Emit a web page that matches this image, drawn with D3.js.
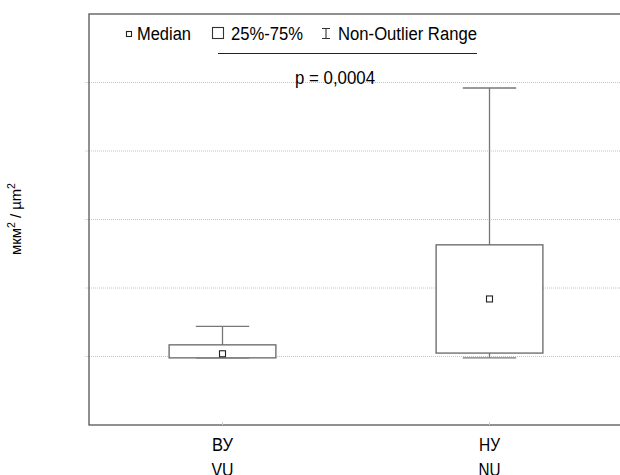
<!DOCTYPE html>
<html>
<head>
<meta charset="utf-8">
<script src="https://cdn.jsdelivr.net/npm/d3@7"></script>
<style>
  body { margin: 0; background: #fff; }
  svg text { font-family: "Liberation Sans", Arial, sans-serif; fill: #000; }
</style>
</head>
<body>
<div id="chart"></div>
<script>
// groups (Russian / English labels)
var groups = ["ВУ", "НУ"];
var groupsEn = ["VU", "NU"];
// box plot stats (axis has no labels, arbitrary units)
var mins    = [0.98, 0.98];
var q1s     = [0.98, 1.05];
var medians = [1.04, 1.84];
var q3s     = [1.17, 2.63];
var maxs    = [1.44, 4.92];
var gridTicks = [1, 2, 3, 4, 5];

var width = 620, height = 475;
var margin = { top: 14, right: -3, bottom: 50, left: 89 };

var svg = d3.select("#chart").append("svg")
  .attr("width", width)
  .attr("height", height);

var x = d3.scaleBand()
  .domain(groups)
  .range([margin.left, width - margin.right])
  .paddingInner(0)
  .paddingOuter(0);

var y = d3.scaleLinear()
  .domain([0, 6])
  .range([height - margin.bottom, margin.top]);

// gridlines
svg.append("g")
  .selectAll("line")
  .data(gridTicks)
  .enter().append("line")
  .attr("x1", margin.left)
  .attr("x2", width)
  .attr("y1", d => y(d))
  .attr("y2", d => y(d))
  .attr("stroke", "#c4c4c4")
  .attr("stroke-width", 1)
  .attr("stroke-dasharray", "1,1");

// small ticks on left axis
svg.append("g")
  .selectAll("line")
  .data(gridTicks)
  .enter().append("line")
  .attr("x1", margin.left - 4)
  .attr("x2", margin.left)
  .attr("y1", d => y(d))
  .attr("y2", d => y(d))
  .attr("stroke", "#ddd");

// frame
svg.append("rect")
  .attr("x", margin.left)
  .attr("y", margin.top)
  .attr("width", x.range()[1] - margin.left)
  .attr("height", y(0) - margin.top)
  .attr("fill", "none")
  .attr("stroke", "#555")
  .attr("stroke-width", 1.3);

var boxW = x.bandwidth() * 0.4;
var capW = x.bandwidth() * 0.2;

var boxes = svg.append("g")
  .selectAll("g")
  .data(groups)
  .enter().append("g")
  .attr("transform", d => `translate(${x(d) + x.bandwidth() / 2},0)`);

// whiskers
boxes.append("line")
  .attr("y1", (d, i) => y(maxs[i]))
  .attr("y2", (d, i) => y(q3s[i]))
  .attr("stroke", "#777").attr("stroke-width", 1.3);
boxes.append("line")
  .attr("y1", (d, i) => y(mins[i]))
  .attr("y2", (d, i) => y(q1s[i]))
  .attr("stroke", "#777").attr("stroke-width", 1.3);
boxes.append("line")
  .attr("x1", -capW / 2).attr("x2", capW / 2)
  .attr("y1", (d, i) => y(maxs[i]))
  .attr("y2", (d, i) => y(maxs[i]))
  .attr("stroke", "#777").attr("stroke-width", 1.3);
boxes.append("line")
  .attr("x1", -capW / 2).attr("x2", capW / 2)
  .attr("y1", (d, i) => y(mins[i]))
  .attr("y2", (d, i) => y(mins[i]))
  .attr("stroke", "#777").attr("stroke-width", 1.3);

// box
boxes.append("rect")
  .attr("x", -boxW / 2)
  .attr("width", boxW)
  .attr("y", (d, i) => y(q3s[i]))
  .attr("height", (d, i) => y(q1s[i]) - y(q3s[i]))
  .attr("fill", "#fff")
  .attr("stroke", "#666")
  .attr("stroke-width", 1.3);

// median marker
boxes.append("rect")
  .attr("x", -3)
  .attr("width", 6)
  .attr("y", (d, i) => y(medians[i]) - 3)
  .attr("height", 6)
  .attr("fill", "#fff")
  .attr("stroke", "#222")
  .attr("stroke-width", 1.1);

// category ticks + labels
boxes.append("line")
  .attr("y1", y(0) - 3).attr("y2", y(0))
  .attr("stroke", "#ccc");
boxes.append("text")
  .attr("y", 451)
  .attr("text-anchor", "middle")
  .attr("textLength", 21)
  .attr("lengthAdjust", "spacingAndGlyphs")
  .style("font-size", "19px")
  .text(d => d);
boxes.append("text")
  .attr("y", 476)
  .attr("text-anchor", "middle")
  .attr("textLength", 22)
  .attr("lengthAdjust", "spacingAndGlyphs")
  .style("font-size", "19px")
  .text((d, i) => groupsEn[i]);

// legend
function narrow(sel, len) {
  return sel.attr("textLength", len).attr("lengthAdjust", "spacingAndGlyphs");
}
var legend = svg.append("g").style("font-size", "18px");
legend.append("rect")
  .attr("x", 126.5).attr("y", 31.5).attr("width", 5).attr("height", 5)
  .attr("fill", "#fff").attr("stroke", "#222").attr("stroke-width", 1.1);
narrow(legend.append("text").attr("x", 137).attr("y", 40).text("Median"), 54);
legend.append("rect")
  .attr("x", 212.5).attr("y", 27.5).attr("width", 11).attr("height", 11)
  .attr("fill", "#fff").attr("stroke", "#333").attr("stroke-width", 1.1);
narrow(legend.append("text").attr("x", 231).attr("y", 40).text("25%-75%"), 72);
legend.append("path")
  .attr("d", "M322,28.5H330M326,28.5V38.5M322,38.5H330")
  .attr("fill", "none").attr("stroke", "#333").attr("stroke-width", 1.1);
narrow(legend.append("text").attr("x", 338).attr("y", 40).text("Non-Outlier Range"), 139);

svg.append("line")
  .attr("x1", 218).attr("x2", 477)
  .attr("y1", 53.5).attr("y2", 53.5)
  .attr("stroke", "#222").attr("stroke-width", 1);

narrow(svg.append("text")
  .attr("x", 295).attr("y", 84)
  .style("font-size", "18px")
  .text("p = 0,0004"), 80);

// y axis label
var yl = svg.append("text")
  .attr("transform", "translate(21,219) rotate(-90)")
  .attr("text-anchor", "middle")
  .attr("textLength", 72)
  .attr("lengthAdjust", "spacingAndGlyphs")
  .style("font-size", "14px");
yl.append("tspan").text("мкм");
yl.append("tspan").attr("dy", -6).style("font-size", "10px").text("2");
yl.append("tspan").attr("dy", 6).text(" / µm");
yl.append("tspan").attr("dy", -6).style("font-size", "10px").text("2");
</script>
</body>
</html>
